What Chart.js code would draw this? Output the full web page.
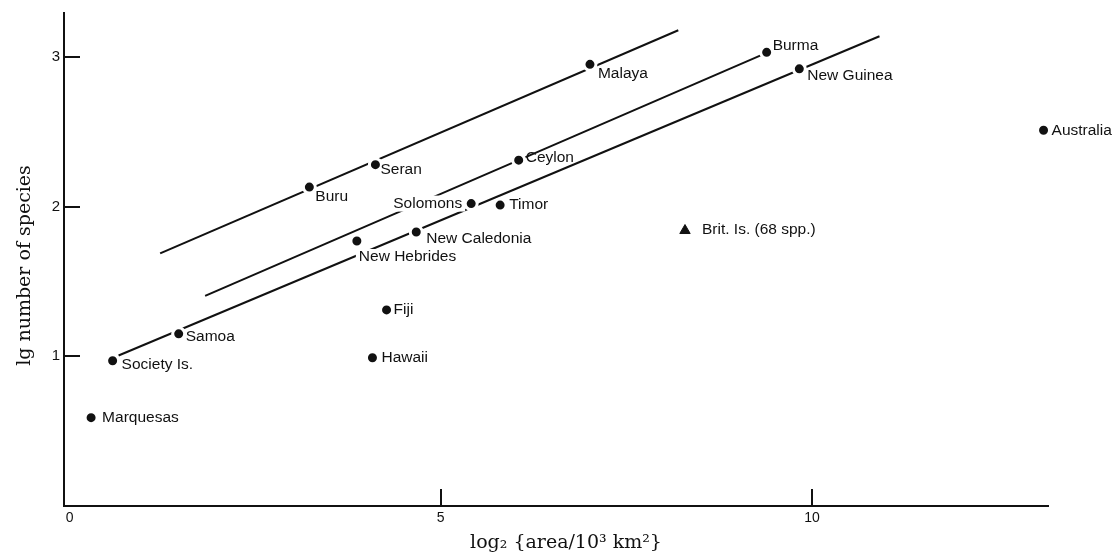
<!DOCTYPE html>
<html><head><meta charset="utf-8">
<script src="https://cdn.jsdelivr.net/npm/chart.js@4.4.1/dist/chart.umd.min.js"></script>
<style>html,body{margin:0;padding:0;background:#fff}#wrap{width:1114px;height:556px;position:relative}</style>
</head><body><div id="wrap"><canvas id="c"></canvas></div>
<script>
// ---- data ----
const islandNames = ["Marquesas","Society Is.","Samoa","Hawaii","Fiji","Buru","Seran","New Hebrides","New Caledonia","Solomons","Timor","Ceylon","Malaya","Burma","New Guinea","Australia"];
const islandLog2Area = [0.29,0.58,1.47,4.08,4.27,3.23,4.12,3.87,4.67,5.41,5.80,6.05,7.01,9.39,9.83,13.12];
const islandLgSpecies = [0.59,0.97,1.15,0.99,1.31,2.13,2.28,1.77,1.83,2.02,2.01,2.31,2.95,3.03,2.92,2.51];

const britName = ["Brit. Is. (68 spp.)"];
const britLog2Area = [8.29];
const britLgSpecies = [1.84];

const lineUpperX = [1.22, 8.20];
const lineUpperY = [1.687, 3.178];
const lineMiddleX = [1.826, 9.31];
const lineMiddleY = [1.404, 3.01];
const lineLowerX = [0.66, 10.91];
const lineLowerY = [1.005, 3.138];

const xTickValues = [0, 5, 10];
const yTickValues = [1, 2, 3];
const xTitle = "log\u2082 {area/10\u00b3 km\u00b2}";
const yTitle = "lg number of species";

// ---- label placement (styling, not data) ----
const labelPlacement = {
  "Marquesas":[11,0,"left",false],
  "Society Is.":[9,4,"left",false],
  "Samoa":[7,3,"left",false],
  "Hawaii":[9,0,"left",false],
  "Fiji":[7,0,"left",false],
  "Buru":[6,10,"left",false],
  "Seran":[5,5,"left",false],
  "New Hebrides":[2,16,"left",true],
  "New Caledonia":[10,7,"left",false],
  "Solomons":[-9,0,"right",true],
  "Timor":[9,0,"left",false],
  "Ceylon":[7,-2,"left",false],
  "Malaya":[8,9,"left",false],
  "Burma":[6,-7,"left",false],
  "New Guinea":[8,7,"left",false],
  "Australia":[8,0,"left",false],
  "Brit. Is. (68 spp.)":[17,-1,"left",false]
};

const pts = (xs, ys) => xs.map((x, i) => ({x, y: ys[i]}));
const LABEL_FONT = '15.5px "Liberation Sans", Arial, sans-serif';
const TITLE_FONT = '19px "DejaVu Serif", serif';

const lineDs = (xs, ys) => ({
  type: 'line', data: pts(xs, ys), borderColor: '#111', borderWidth: 2,
  pointRadius: 0, showLine: true, fill: false, order: 3, clip: false
});

const labelPlugin = {
  id: 'labels',
  afterDatasetsDraw(chart) {
    const ctx = chart.ctx;
    ctx.save();
    ctx.font = LABEL_FONT;
    ctx.textBaseline = 'middle';
    ctx.fillStyle = '#111';
    [[0, islandNames], [1, britName]].forEach(([di, names]) => {
      const meta = chart.getDatasetMeta(di);
      meta.data.forEach((el, i) => {
        const name = names[i];
        const p = labelPlacement[name];
        const x = el.x + p[0], y = el.y + p[1];
        ctx.textAlign = p[2];
        if (p[3]) {
          const w = ctx.measureText(name).width;
          const lx = p[2] === 'right' ? x - w : x;
          ctx.fillStyle = '#fff';
          ctx.fillRect(lx - 3, y - 8, w + 6, 16);
          ctx.fillStyle = '#111';
        }
        ctx.fillText(name, x, y);
      });
    });
    ctx.restore();
  },
  afterDraw(chart) {
    const ctx = chart.ctx, xs = chart.scales.x, ys = chart.scales.y, a = chart.chartArea;
    ctx.save();
    ctx.strokeStyle = '#111';
    ctx.lineWidth = 2;
    yTickValues.forEach(v => {
      const y = Math.round(ys.getPixelForValue(v));
      ctx.beginPath(); ctx.moveTo(a.left, y); ctx.lineTo(a.left + 16, y); ctx.stroke();
    });
    xTickValues.filter(v => v !== 0).forEach(v => {
      const x = Math.round(xs.getPixelForValue(v));
      ctx.beginPath(); ctx.moveTo(x, a.bottom); ctx.lineTo(x, a.bottom - 17); ctx.stroke();
    });
    // axis titles
    ctx.fillStyle = '#111';
    ctx.font = TITLE_FONT;
    ctx.textAlign = 'center';
    ctx.textBaseline = 'middle';
    ctx.fillText(xTitle, (a.left + a.right) / 2 + 10, 543);
    ctx.translate(25, (a.top + a.bottom) / 2 + 6);
    ctx.rotate(-Math.PI / 2);
    ctx.fillText(yTitle, 0, 0);
    ctx.restore();
  }
};

new Chart(document.getElementById('c'), {
  type: 'scatter',
  data: {
    datasets: [
      { label: 'islands', data: pts(islandLog2Area, islandLgSpecies), backgroundColor: '#111',
        borderColor: '#fff', borderWidth: 3, pointRadius: 6, pointHoverRadius: 6, order: 1, clip: false },
      { label: 'britain', data: pts(britLog2Area, britLgSpecies), pointStyle: 'triangle',
        backgroundColor: '#111', borderColor: '#111', borderWidth: 1, pointRadius: 6, order: 1, clip: false },
      lineDs(lineUpperX, lineUpperY),
      lineDs(lineMiddleX, lineMiddleY),
      lineDs(lineLowerX, lineLowerY)
    ]
  },
  options: {
    responsive: true, maintainAspectRatio: false, animation: false,
    layout: { padding: { top: 11, right: 66, left: 0, bottom: 0 } },
    plugins: { legend: { display: false }, tooltip: { enabled: false } },
    scales: {
      x: {
        type: 'linear', min: -0.075, max: 13.18,
        afterBuildTicks(s) { s.ticks = xTickValues.map(v => ({ value: v })); },
        afterFit(s) { s.height = 50; },
        grid: { display: false, drawTicks: false },
        border: { display: true, color: '#111', width: 2 },
        ticks: { color: '#111', padding: 4, font: { family: '"Liberation Sans", Arial, sans-serif', size: 14 }, maxRotation: 0 }
      },
      y: {
        type: 'linear', min: 0, max: 3.293,
        afterBuildTicks(s) { s.ticks = yTickValues.map(v => ({ value: v })); },
        afterFit(s) { s.width = 64; },
        grid: { display: false, drawTicks: false },
        border: { display: true, color: '#111', width: 2 },
        ticks: { color: '#111', padding: 4, font: { family: '"Liberation Sans", Arial, sans-serif', size: 15 } }
      }
    }
  },
  plugins: [labelPlugin]
});
</script></body></html>
